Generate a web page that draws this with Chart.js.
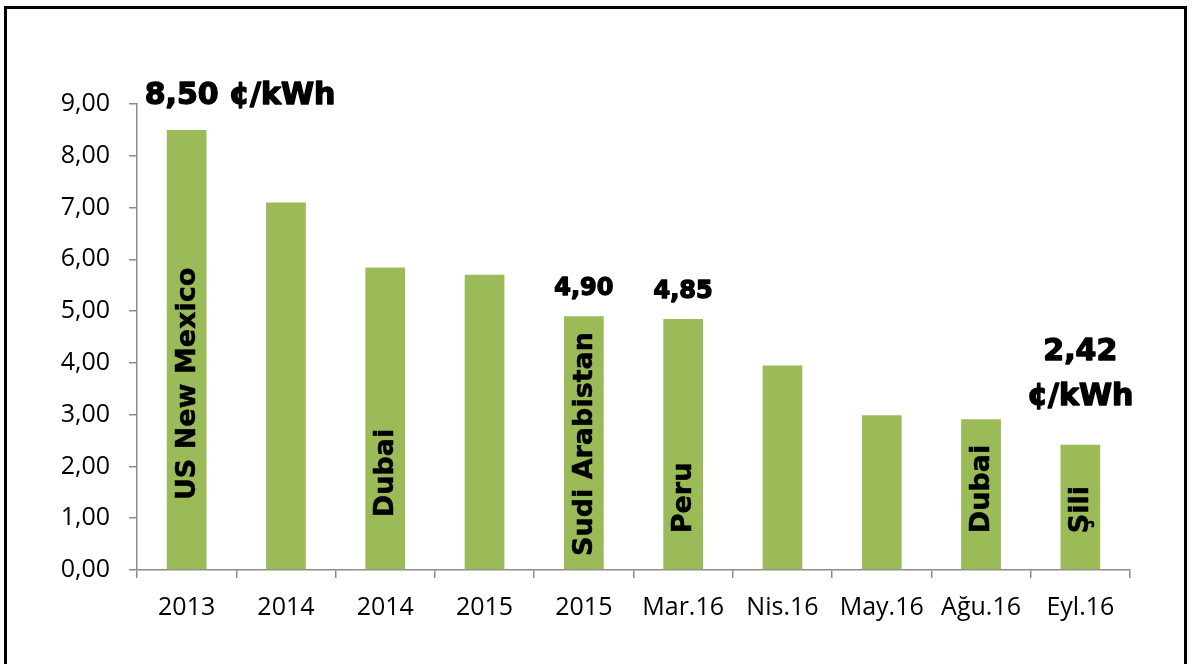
<!DOCTYPE html>
<html>
<head>
<meta charset="utf-8">
<script src="https://cdn.jsdelivr.net/npm/chart.js@4/dist/chart.umd.min.js"></script>
<style>
  html, body { margin: 0; padding: 0; background: #fff; overflow: hidden; }
  #wrap { position: relative; width: 1192px; height: 664px; }
  #frame { position: absolute; left: 4px; top: 6px; width: 1177px; height: 700px; border: 3px solid #000; }
  canvas { position: absolute; left: 0; top: 0; }
</style>
</head>
<body>
<div id="wrap">
  <div id="frame"></div>
  <canvas id="lcoeChart" width="1192" height="664"></canvas>
</div>
<script>
// data
const categories = ["2013", "2014", "2014", "2015", "2015", "Mar.16", "Nis.16", "May.16", "Ağu.16", "Eyl.16"];
const prices = [8.50, 7.10, 5.84, 5.70, 4.90, 4.85, 3.95, 2.99, 2.91, 2.42];
const countries = ["US New Mexico", "", "Dubai", "", "Sudi Arabistan", "Peru", "", "", "Dubai", "Şili"];
const topLabels = [["8,50 ¢/kWh"], [], [], [], ["4,90"], ["4,85"], [], [], [], ["2,42", "¢/kWh"]];
const yTicks = [0, 1, 2, 3, 4, 5, 6, 7, 8, 9];

function fmt(v) {
  return Number(v).toFixed(2).replace(".", ",");
}

const BOLD = '"DejaVu Sans", "Liberation Sans", Arial, sans-serif';
const TICKFONT = '"Open Sans", "Liberation Sans", sans-serif';

// where the rotated country label ends (value units)
const countryBase = [1.35, 0, 1.02, 0, 0.27, 0.71, 0, 0, 0.71, 0.71];

const barLabels = {
  id: "barLabels",
  afterDatasetsDraw(chart) {
    const ctx = chart.ctx;
    const meta = chart.getDatasetMeta(0);
    const y = chart.scales.y;
    ctx.save();
    ctx.fillStyle = "#000";
    ctx.strokeStyle = "#000";
    ctx.lineJoin = "round";

    // country names inside the bars
    ctx.font = "bold 27px " + BOLD;
    ctx.textBaseline = "middle";
    ctx.textAlign = "left";
    meta.data.forEach((bar, i) => {
      if (!countries[i]) return;
      ctx.save();
      ctx.translate(bar.x, y.getPixelForValue(countryBase[i]));
      ctx.rotate(-Math.PI / 2);
      ctx.lineWidth = 0.5;
      ctx.strokeText(countries[i], 0, 1);
      ctx.fillText(countries[i], 0, 1);
      ctx.restore();
    });

    // price labels above bars
    ctx.textBaseline = "alphabetic";
    meta.data.forEach((bar, i) => {
      const lines = topLabels[i];
      if (!lines.length) return;
      let size = 30, gap = 26, lead = 45;
      if (i === 4 || i === 5) { size = 24; gap = 21; }
      if (i === 9) { gap = 40; }
      ctx.font = "bold " + size + "px " + BOLD;
      ctx.lineWidth = 1.4;
      let x = bar.x;
      if (i === 0) { ctx.textAlign = "left"; x = bar.x - 42; } else { ctx.textAlign = "center"; }
      for (let k = 0; k < lines.length; k++) {
        const yy = bar.y - gap - (lines.length - 1 - k) * lead;
        ctx.strokeText(lines[k], x, yy);
        ctx.fillText(lines[k], x, yy);
      }
    });
    ctx.restore();
  }
};

const ctx = document.getElementById("lcoeChart").getContext("2d");

new Chart(ctx, {
  type: "bar",
  data: {
    labels: categories,
    datasets: [{
      label: "¢/kWh",
      data: prices,
      backgroundColor: "#9BBB59",
      borderWidth: 0,
      barPercentage: 0.4,
      categoryPercentage: 1.0
    }]
  },
  options: {
    responsive: false,
    animation: false,
    devicePixelRatio: 1,
    layout: {
      padding: { left: 0, right: 62, top: 104, bottom: 0 }
    },
    plugins: {
      legend: { display: false },
      tooltip: { enabled: false }
    },
    scales: {
      x: {
        afterFit: s => { s.height = 94; },
        grid: {
          offset: true,
          drawOnChartArea: false,
          drawTicks: true,
          tickLength: 8,
          color: "#8c8c8c",
          lineWidth: 1.5
        },
        border: { display: true, color: "#8c8c8c", width: 1.5 },
        ticks: {
          color: "#000",
          padding: 15,
          maxRotation: 0,
          font: { family: TICKFONT, size: 25 }
        }
      },
      y: {
        min: 0,
        max: 9,
        afterFit: s => { s.width = 137; },
        afterBuildTicks: s => { s.ticks = yTicks.map(v => ({ value: v })); },
        grid: {
          drawOnChartArea: false,
          drawTicks: true,
          tickLength: 8,
          color: "#8c8c8c",
          lineWidth: 1.5
        },
        border: { display: true, color: "#8c8c8c", width: 1.5 },
        ticks: {
          color: "#000",
          padding: 19,
          callback: v => fmt(v),
          font: { family: TICKFONT, size: 25 }
        }
      }
    }
  },
  plugins: [barLabels]
});
</script>
</body>
</html>
